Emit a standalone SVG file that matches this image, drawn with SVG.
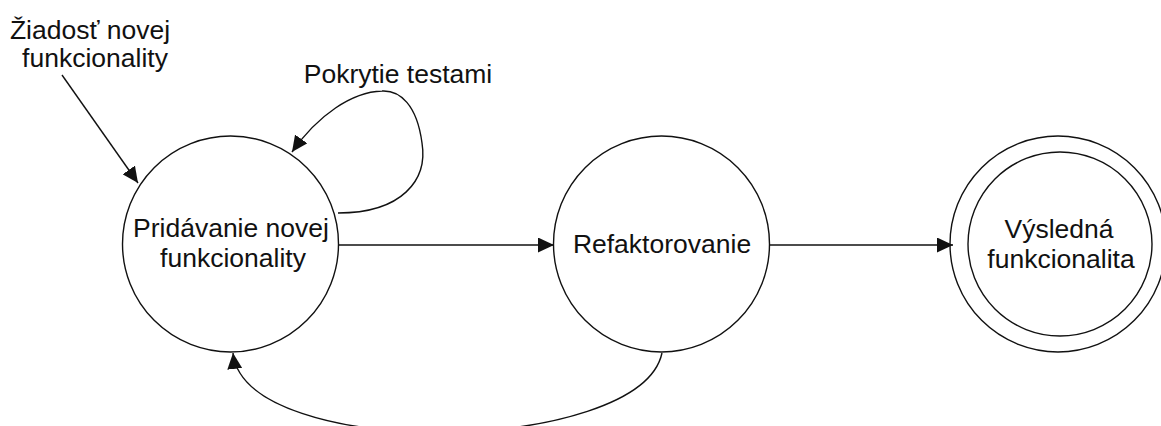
<svg xmlns="http://www.w3.org/2000/svg" width="1161" height="426" viewBox="0 0 1161 426">
<style>
.node{fill:#fff;stroke:#111;stroke-width:1.4}
.lbl{font-family:"Liberation Sans",Arial,sans-serif;font-size:26.5px;fill:#111;text-anchor:middle}
.edge{fill:none;stroke:#111;stroke-width:1.4;marker-end:url(#arr)}
</style>
<defs>
<marker id="arr" markerUnits="userSpaceOnUse" markerWidth="17" markerHeight="15" refX="16" refY="7.5" orient="auto">
<path d="M0,0 L16,7.5 L0,15 z" fill="#111"/>
</marker>
</defs>
<rect width="1161" height="426" fill="#fff"/>
<g id="start-label">
<text class="lbl" x="90" y="39">Žiadosť novej</text>
<text class="lbl" x="95" y="67">funkcionality</text>
</g>
<g id="node-pridavanie">
<circle class="node" cx="230.5" cy="244" r="108"/>
<text class="lbl" x="231" y="237">Pridávanie novej</text>
<text class="lbl" x="233" y="267">funkcionality</text>
</g>
<g id="node-refaktorovanie">
<circle class="node" cx="661.5" cy="244" r="108"/>
<text class="lbl" x="662" y="253">Refaktorovanie</text>
</g>
<g id="node-vysledna">
<circle class="node" cx="1058" cy="244" r="108"/>
<circle class="node" cx="1060" cy="244" r="92"/>
<text class="lbl" x="1059" y="238">Výsledná</text>
<text class="lbl" x="1061" y="268">funkcionalita</text>
</g>
<g id="connectors">
<path class="edge" d="M62 75 L138 183"/>
<path class="edge" d="M338 213 C402 213,428 180,422 143 C417 105,400 90,382 91 C352 92,318 115,292 152"/>
<text class="lbl" x="398" y="83">Pokrytie testami</text>
<path class="edge" d="M339 245 L554 245"/>
<path class="edge" d="M769 245 L953 245"/>
<path class="edge" d="M662 353 C640 455,245 462,233 353"/>
</g>
</svg>
